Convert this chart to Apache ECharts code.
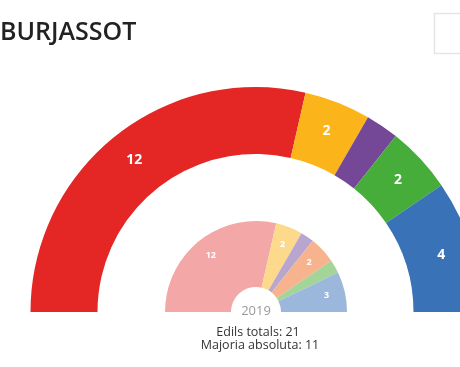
<!DOCTYPE html>
<html><head><meta charset="utf-8">
<script src="https://cdn.jsdelivr.net/npm/echarts@6/dist/echarts.min.js"></script>
<style>html,body{margin:0;padding:0;background:#fff}#c{width:460px;height:367px}</style>
</head><body><div id="c"></div>
<script>
const parties = ['A','B','C','D','E','F'];
const seats2023 = [12, 2, 1, 0, 2, 4];
const colors2023 = ['#e42725', '#fbb51a', '#744797', '#f08a4b', '#46ad3a', '#3a72b8'];
const seats2019 = [12, 2, 1, 2, 1, 3];
const colors2019 = ['#f4a7a7', '#fcd98b', '#b9a6cf', '#f6b38e', '#a3d498', '#9cb7dc'];
const totalSeats = 21;
const majority = 11;
const title = 'BURJASSOT';
const prevYear = '2019';

function build(vals, cols) {
  const d = [];
  vals.forEach((v, i) => { if (v > 0) d.push({ value: v, name: parties[i], itemStyle: { color: cols[i] }, label: { show: v > 1 } }); });
  const sum = vals.reduce((a, b) => a + b, 0);
  d.push({ value: sum, name: 'hidden', itemStyle: { color: 'rgba(0,0,0,0)' }, label: { show: false }, emphasis: { disabled: true }, tooltip: { show: false } });
  return d;
}
const cx = 256, cy = 312;
const chart = echarts.init(document.getElementById('c'), null, { renderer: 'canvas' });
chart.setOption({
  animation: false,
  graphic: [
    { type: 'text', left: 0, top: 20, style: { text: title, font: '600 25px "Open Sans", sans-serif', fill: '#222' } },
    { type: 'rect', shape: { x: 434.5, y: 13.5, width: 40, height: 40 }, style: { fill: '#fff', stroke: '#e3e5e8', lineWidth: 1.5 } },
    { type: 'text', x: cx, y: 311, style: { text: prevYear, font: '13px "Open Sans", sans-serif', fill: '#9a9a9a', align: 'center', verticalAlign: 'middle' } },
    { type: 'text', x: 258, y: 332, style: { text: 'Edils totals: ' + totalSeats, font: '12.5px "Open Sans", sans-serif', fill: '#333', align: 'center', verticalAlign: 'middle' } },
    { type: 'text', x: 260, y: 345, style: { text: 'Majoria absoluta: ' + majority, font: '12.5px "Open Sans", sans-serif', fill: '#333', align: 'center', verticalAlign: 'middle' } }
  ],
  series: [
    { type: 'pie', center: [cx - 0.5, cy], radius: [158, 225], startAngle: 180, clockwise: true, silent: true,
      label: { position: 'inside', color: '#fff', fontWeight: 'bold', fontSize: 14, fontFamily: 'Open Sans', formatter: '{c}' },
      labelLine: { show: false }, data: build(seats2023, colors2023) },
    { type: 'pie', center: [cx, cy], radius: [25, 91], startAngle: 180, clockwise: true, silent: true,
      label: { show: false }, labelLine: { show: false }, data: build(seats2019, colors2019).map(d => Object.assign({}, d, { label: { show: false } })) },
    { type: 'pie', center: [cx, cy], radius: [48, 91], startAngle: 180, clockwise: true, silent: true, z: 5,
      itemStyle: { color: 'rgba(0,0,0,0)' },
      label: { position: 'inside', color: '#fff', fontWeight: 'bold', fontSize: 9, fontFamily: 'Open Sans', formatter: '{c}' },
      labelLine: { show: false },
      data: build(seats2019, colors2019).map(d => Object.assign({}, d, { itemStyle: { color: 'rgba(0,0,0,0)' } })) }
  ]
});
</script></body></html>
